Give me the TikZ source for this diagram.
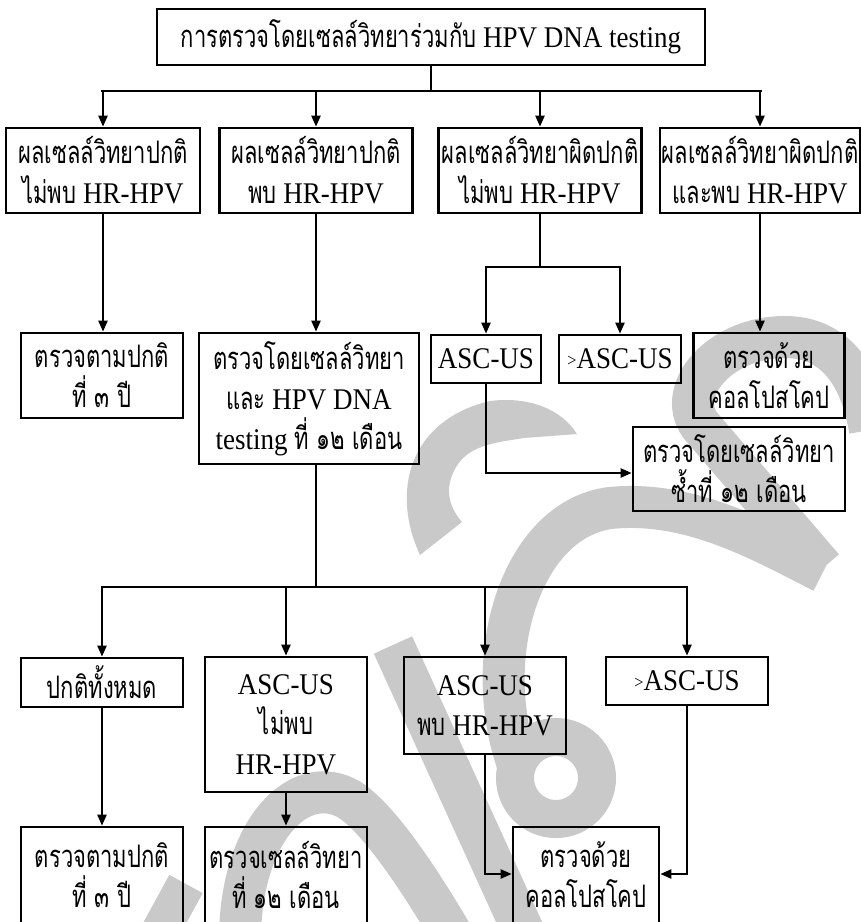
\documentclass[tikz,border=0pt]{standalone}
\usepackage{fontspec}
\setmainfont{Liberation Serif}[FakeStretch=0.9]
\newfontfamily\thai[Script=Thai,FakeStretch=0.71,Scale=1.033]{Loma}
\usetikzlibrary{arrows.meta}
\newcommand\T[1]{{\thai #1}}
\newcommand\sgt{{\fontsize{18}{18}\selectfont\raisebox{2pt}{>}}}
\definecolor{wm}{RGB}{201,201,201}
\begin{document}
\begin{tikzpicture}[x=1pt,y=-1pt,
  box/.style={draw, line width=2.7pt, align=center, inner sep=0pt,
    font=\fontsize{30}{40}\selectfont},
  conn/.style={line width=2.3pt},
  arr/.style={conn, -{Triangle[length=11pt,width=9pt]}},
  wmark/.style={draw=wm, line width=42pt, line cap=butt}]
\clip (0,0) rectangle (861,922);
\fill[white] (0,0) rectangle (861,922);
% watermark (background)
\draw[wmark, line width=38pt] (150,950) -- (186,884);
\draw[wmark] (240,940) .. controls (240,830) and (300,770) .. (350,800)
   .. controls (380,820) and (420,880) .. (455,940);
\draw[wmark] (393,645) -- (525,935);
\draw[wmark, line width=38pt] (556,778) circle[radius=41];
\draw[wmark] (520,770) .. controls (478,660) and (520,520) .. (610,508)
   .. controls (690,500) and (760,540) .. (823,572);
\fill[wm] (420,555) .. controls (390,490) and (410,420) .. (490,401)
   .. controls (530,396) and (562,410) .. (577,434) -- (524,438)
   .. controls (500,442) and (472,444) .. (458,464)
   .. controls (444,485) and (447,505) .. (462,522) -- cycle;
\draw[wmark] (823,568) -- (700,425) .. controls (675,390) and (720,337) .. (785,337)
   .. controls (835,337) and (861,375) .. (870,430);
% row 1
\node[box, minimum width=548pt, minimum height=56pt] (top) at (431,37)
  {\T{การตรวจโดยเซลล์วิทยาร่วมกับ} HPV DNA testing};
% row 2
\node[box, minimum width=194pt, minimum height=85pt] (A) at (103,170.5)
  {\T{ผลเซลล์วิทยาปกติ}\\\T{ไม่พบ} HR-HPV};
\node[box, minimum width=193pt, minimum height=85pt] (B) at (316,170.5)
  {\T{ผลเซลล์วิทยาปกติ}\\\T{พบ} HR-HPV};
\node[box, minimum width=203pt, minimum height=85pt] (C) at (540,170.5)
  {\T{ผลเซลล์วิทยาผิดปกติ}\\\T{ไม่พบ} HR-HPV};
\node[box, minimum width=200pt, minimum height=85pt] (D) at (760,170.5)
  {\T{ผลเซลล์วิทยาผิดปกติ}\\\T{และพบ} HR-HPV};
% row 3
\node[box, minimum width=162pt, minimum height=85pt] (E) at (102,375.5)
  {\T{ตรวจตามปกติ}\\\T{ที่ ๓ ปี}};
\node[box, minimum width=220pt, minimum height=131pt] (F) at (309,398.5)
  {\T{ตรวจโดยเซลล์วิทยา}\\\T{และ} HPV DNA\\testing \T{ที่ ๑๒ เดือน}};
\node[box, minimum width=110pt, minimum height=48pt] (G) at (486,359) {ASC-US};
\node[box, minimum width=122pt, minimum height=48pt] (H) at (620,359) {\sgt ASC-US};
\node[box, minimum width=151pt, minimum height=85pt] (I) at (769,375.5)
  {\T{ตรวจด้วย}\\\T{คอลโปสโคป}};
\node[box, minimum width=212pt, minimum height=84pt] (J) at (739,469)
  {\T{ตรวจโดยเซลล์วิทยา}\\\T{ซ้ำที่ ๑๒ เดือน}};
% row 4
\node[box, minimum width=162pt, minimum height=49pt] (K) at (102,682.5) {\T{ปกติทั้งหมด}};
\node[box, minimum width=162pt, minimum height=135pt] (L) at (286,724.5)
  {ASC-US\\\T{ไม่พบ}\\HR-HPV};
\node[box, minimum width=162pt, minimum height=97pt] (M) at (485,705.5)
  {ASC-US\\\T{พบ} HR-HPV};
\node[box, minimum width=162pt, minimum height=48pt] (N) at (687,681) {\sgt ASC-US};
% row 5
\node[box, minimum width=162pt, minimum height=96pt] (O) at (102,875)
  {\T{ตรวจตามปกติ}\\\T{ที่ ๓ ปี}};
\node[box, minimum width=162pt, minimum height=96pt] (P) at (286,875)
  {\T{ตรวจเซลล์วิทยา}\\\T{ที่ ๑๒ เดือน}};
\node[box, minimum width=146pt, minimum height=96pt] (Q) at (586,875)
  {\T{ตรวจด้วย}\\\T{คอลโปสโคป}};
% connectors
\coordinate (bus1) at (0,91);
\coordinate (bus2) at (0,587);
\coordinate (busC) at (0,267);
\draw[conn] (top.south) -- (top.south |- bus1);
\draw[conn] ([xshift=-2pt]A.north |- bus1) -- ([xshift=2pt]D.north |- bus1);
\foreach \n in {A,B,C,D} \draw[arr] (\n.north |- bus1) -- (\n.north);
\draw[arr] (A.south) -- (A.south |- E.north);
\draw[arr] (B.south) -- (B.south |- F.north);
\draw[conn] (C.south) -- (C.south |- busC);
\draw[conn] ([xshift=-1pt]G.north |- busC) -- ([xshift=1pt]H.north |- busC);
\draw[arr] (G.north |- busC) -- (G.north);
\draw[arr] (H.north |- busC) -- (H.north);
\draw[arr] (D.south) -- (D.south |- I.north);
\draw[arr] (G.south) |- ([yshift=-4pt]J.west);
\draw[conn] (B.south |- F.south) -- (B.south |- bus2);
\draw[conn] ([xshift=-1pt]K.north |- bus2) -- ([xshift=1pt]N.north |- bus2);
\foreach \n in {K,L,M,N} \draw[arr] (\n.north |- bus2) -- (\n.north);
\draw[arr] (K.south) -- (O.north);
\draw[arr] (L.south) -- (P.north);
\draw[arr] (M.south) |- ([yshift=1pt]Q.west);
\draw[arr] (N.south) |- ([yshift=1pt]Q.east);
\end{tikzpicture}
\end{document}
